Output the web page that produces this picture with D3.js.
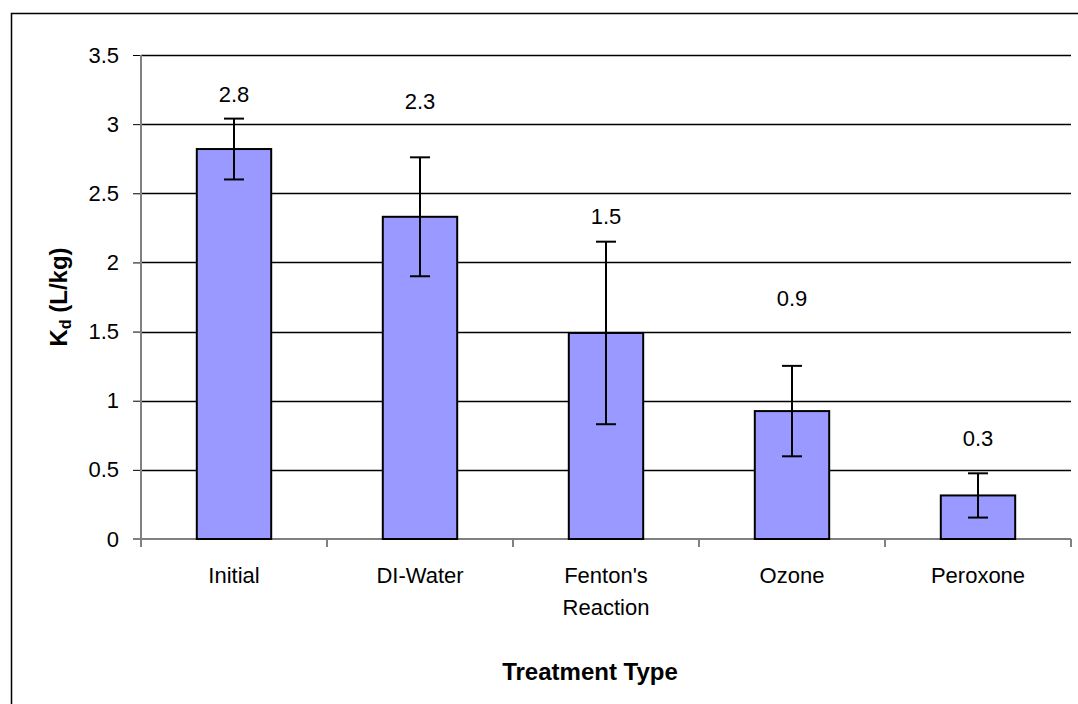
<!DOCTYPE html>
<html>
<head>
<meta charset="utf-8">
<script src="https://cdn.jsdelivr.net/npm/d3@7"></script>
<style>
  body { margin: 0; background: #fff; }
  svg text { font-family: "Liberation Sans", Arial, sans-serif; fill: #000; }
</style>
</head>
<body>
<svg id="chart" width="1078" height="704"></svg>
<script>
// data
var categories = ["Initial", "DI-Water", "Fenton's\nReaction", "Ozone", "Peroxone"];
var kdValues = [2.82, 2.33, 1.49, 0.925, 0.315];
var kdErrors = [0.22, 0.43, 0.66, 0.327, 0.16];
var labelAt = [3.215, 3.162, 2.332, 1.737, 0.731];   // where the value labels sit (data units)
var yTicks = [0, 0.5, 1, 1.5, 2, 2.5, 3, 3.5];

var svg = d3.select("#chart");
var width = 1078, height = 704;
var plotLeft = 141, plotRight = 1071, plotTop = 55, plotBottom = 539;

// outer chart frame (runs off right/bottom)
svg.append("rect")
  .attr("x", 11.5).attr("y", 13.5)
  .attr("width", width).attr("height", height)
  .attr("fill", "none").attr("stroke", "#000").attr("stroke-width", 1.5);

var x = d3.scaleBand()
  .domain(categories)
  .range([plotLeft, plotRight])
  .paddingInner(0.6)
  .paddingOuter(0.3);

var y = d3.scaleLinear()
  .domain([0, 3.5])
  .range([plotBottom, plotTop]);

var fmt = d3.format(".1f");

// gridlines
svg.append("g")
  .selectAll("line")
  .data(yTicks.filter(d => d > 0))
  .enter().append("line")
  .attr("x1", plotLeft).attr("x2", plotRight)
  .attr("y1", d => Math.round(y(d)) + 0.5)
  .attr("y2", d => Math.round(y(d)) + 0.5)
  .attr("stroke", "#000").attr("stroke-width", 1.5);

// y axis
var yAxis = svg.append("g")
  .attr("transform", "translate(" + plotLeft + ",0)")
  .call(d3.axisLeft(y).tickValues(yTicks).tickSize(8).tickPadding(14).tickFormat(d3.format("")));
yAxis.select(".domain").remove();
yAxis.selectAll(".tick line").attr("stroke", "#000");
yAxis.selectAll("text").style("font-size", "22px");
svg.append("line")
  .attr("x1", plotLeft).attr("x2", plotLeft)
  .attr("y1", plotTop).attr("y2", plotBottom + 8)
  .attr("stroke", "#808080").attr("stroke-width", 2);

// x axis line + ticks at category boundaries
svg.append("line")
  .attr("x1", plotLeft - 8).attr("x2", plotRight)
  .attr("y1", plotBottom).attr("y2", plotBottom)
  .attr("stroke", "#808080").attr("stroke-width", 2);
var step = x.step();
var bounds = categories.map(c => x(c) + x.bandwidth() / 2 - step / 2).concat([plotRight]);
svg.append("g")
  .selectAll("line")
  .data(bounds)
  .enter().append("line")
  .attr("x1", d => d).attr("x2", d => d)
  .attr("y1", plotBottom).attr("y2", plotBottom + 8)
  .attr("stroke", "#808080").attr("stroke-width", 2);

// bars
svg.append("g")
  .selectAll("rect")
  .data(categories)
  .enter().append("rect")
  .attr("x", c => x(c))
  .attr("width", x.bandwidth())
  .attr("y", (c, i) => y(kdValues[i]))
  .attr("height", (c, i) => y(0) - y(kdValues[i]))
  .attr("fill", "#9999ff")
  .attr("stroke", "#000")
  .attr("stroke-width", 2);

// error bars
var err = svg.append("g").selectAll("g")
  .data(categories)
  .enter().append("g")
  .attr("stroke", "#000").attr("stroke-width", 2);
err.append("line")
  .attr("x1", c => x(c) + x.bandwidth() / 2)
  .attr("x2", c => x(c) + x.bandwidth() / 2)
  .attr("y1", (c, i) => y(kdValues[i] + kdErrors[i]))
  .attr("y2", (c, i) => y(kdValues[i] - kdErrors[i]));
[1, -1].forEach(s => {
  err.append("line")
    .attr("x1", c => x(c) + x.bandwidth() / 2 - 10)
    .attr("x2", c => x(c) + x.bandwidth() / 2 + 10)
    .attr("y1", (c, i) => y(kdValues[i] + s * kdErrors[i]))
    .attr("y2", (c, i) => y(kdValues[i] + s * kdErrors[i]));
});

// value labels
svg.append("g")
  .selectAll("text")
  .data(categories)
  .enter().append("text")
  .attr("x", c => x(c) + x.bandwidth() / 2)
  .attr("y", (c, i) => y(labelAt[i]))
  .attr("dy", "0.35em")
  .attr("text-anchor", "middle")
  .style("font-size", "22px")
  .text((c, i) => fmt(kdValues[i]));

// category labels
var catText = svg.append("g")
  .selectAll("text")
  .data(categories)
  .enter().append("text")
  .attr("x", c => x(c) + x.bandwidth() / 2)
  .attr("y", plotBottom + 44)
  .attr("text-anchor", "middle")
  .style("font-size", "22px");
catText.selectAll("tspan")
  .data(c => c.split("\n"))
  .enter().append("tspan")
  .attr("x", function () { return this.parentNode.getAttribute("x"); })
  .attr("dy", (d, i) => i === 0 ? 0 : 32)
  .text(d => d);

// axis titles
svg.append("text")
  .attr("x", 590).attr("y", 680)
  .attr("text-anchor", "middle")
  .style("font-size", "24px").style("font-weight", "bold")
  .text("Treatment Type");

var yt = svg.append("text")
  .attr("transform", "translate(67,297) rotate(-90)")
  .attr("text-anchor", "middle")
  .style("font-size", "24px").style("font-weight", "bold");
yt.append("tspan").text("K");
yt.append("tspan").attr("dy", 4).style("font-size", "16px").text("d");
yt.append("tspan").attr("dy", -4).text(" (L/kg)");
</script>
</body>
</html>
